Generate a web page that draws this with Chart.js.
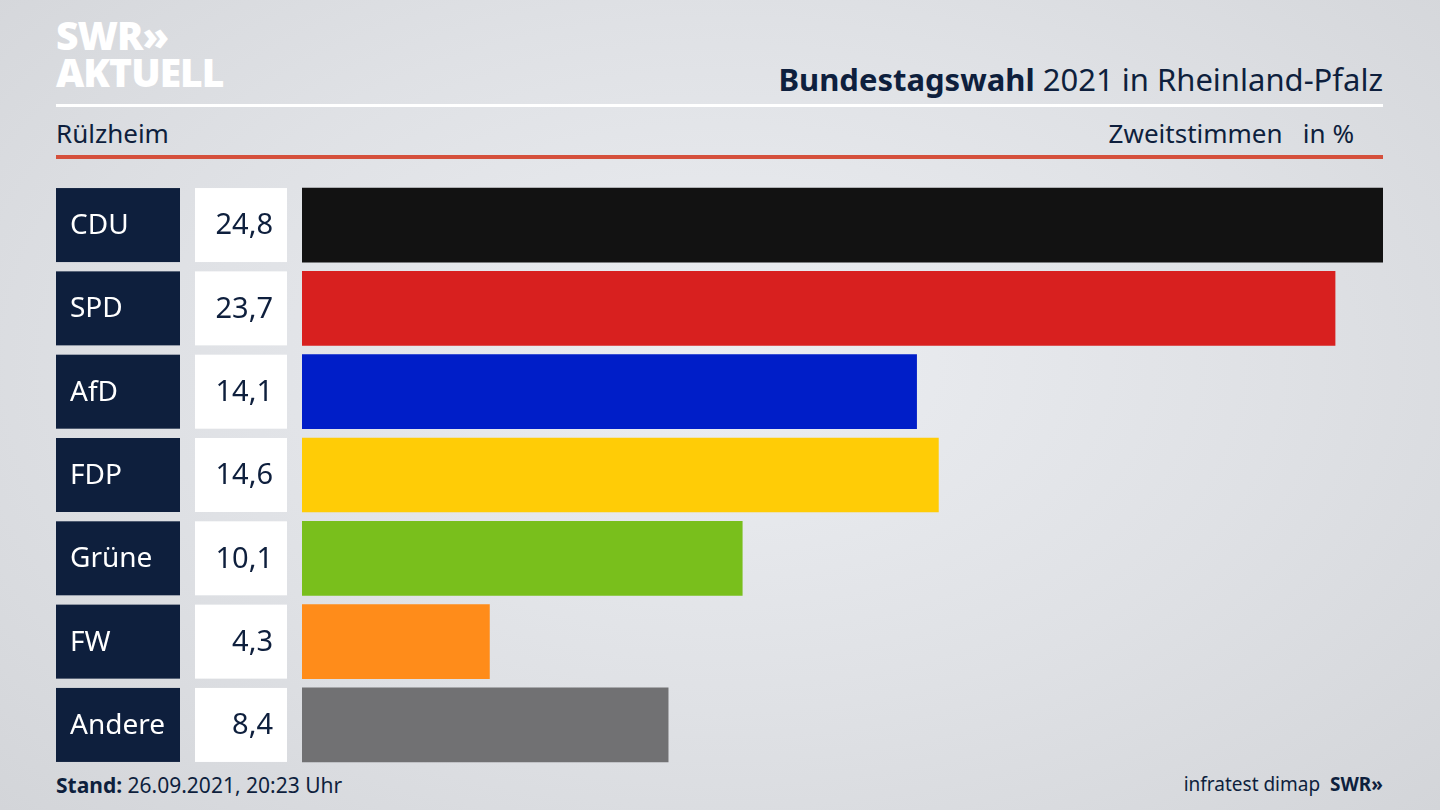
<!DOCTYPE html>
<html><head><meta charset="utf-8">
<script src="https://cdn.jsdelivr.net/npm/chart.js@4/dist/chart.umd.min.js"></script>
<style>
html,body{margin:0;width:1440px;height:810px;overflow:hidden;font-family:"Noto Sans",sans-serif;
background:radial-gradient(ellipse at 50% 45%,#eceef2 0%,#dfe1e5 55%,#d3d5d9 100%);}
#wrap{position:absolute;left:0;top:0;width:1440px;height:810px}
.t{position:absolute;color:#0e1f3d}
</style></head><body>
<div class="t" style="left:56px;top:16px;color:#fff;font-weight:900;font-size:39px;line-height:37px;letter-spacing:-1px">SWR»<br>AKTUELL</div>
<div class="t" style="right:57px;top:58px;font-size:31px"><b>Bundestagswahl</b> 2021 in Rheinland-Pfalz</div>
<div style="position:absolute;left:56px;top:104px;width:1327px;height:3px;background:#fff"></div>
<div class="t" style="left:56px;top:115px;font-size:26px">Rülzheim</div>
<div class="t" style="right:86px;top:115px;font-size:26px">Zweitstimmen&nbsp;&nbsp;&nbsp;in %</div>
<div style="position:absolute;left:56px;top:155px;width:1327px;height:4px;background:#d5503c"></div>
<div class="t" style="left:56px;top:771px;font-size:21px"><b>Stand:</b> 26.09.2021, 20:23 Uhr</div>
<div class="t" style="right:57px;top:771px;font-size:19px">infratest dimap &nbsp;<b>SWR»</b></div>
<div id="wrap"><canvas id="c" width="1440" height="810"></canvas></div>
<script>
// ========== Data ==========
const parties = ['CDU', 'SPD', 'AfD', 'FDP', 'Grüne', 'FW', 'Andere'];
const shares = [24.8, 23.7, 14.1, 14.6, 10.1, 4.3, 8.4];
const colors = ['#121212', '#d8201f', '#001ec8', '#ffcc06', '#79bf1c', '#ff8c1a', '#717173'];

// draws the navy label box and the white value box for each row
const sideBoxes = {
  id: 'sideBoxes',
  afterDatasetsDraw(chart) {
    const ctx = chart.ctx;
    chart.getDatasetMeta(0).data.forEach((bar, i) => {
      const top = bar.y - 37;
      ctx.fillStyle = '#0e1f3d';
      ctx.fillRect(56, top, 124, 74);
      ctx.fillStyle = '#ffffff';
      ctx.fillRect(195, top, 92, 74);
      ctx.textBaseline = 'middle';
      ctx.font = '28px "Noto Sans"';
      ctx.textAlign = 'left';
      ctx.fillText(parties[i], 70, bar.y + 1);
      ctx.fillStyle = '#0e1f3d';
      ctx.textAlign = 'right';
      ctx.font = '29px "Noto Sans"';
      ctx.fillText(shares[i].toFixed(1).replace('.', ','), 273, bar.y + 1);
    });
  }
};

new Chart(document.getElementById('c'), {
  type: 'bar',
  data: {
    labels: parties,
    datasets: [{ data: shares, backgroundColor: colors, barThickness: 74 }]
  },
  options: {
    indexAxis: 'y',
    responsive: false,
    animation: false,
    layout: { padding: { left: 302, right: 57, top: 183.4, bottom: 43.4 } },
    plugins: { legend: { display: false }, tooltip: { enabled: false } },
    scales: {
      x: { display: false, min: 0, max: 24.8 },
      y: { display: false }
    }
  },
  plugins: [sideBoxes]
});
</script>
</body></html>
